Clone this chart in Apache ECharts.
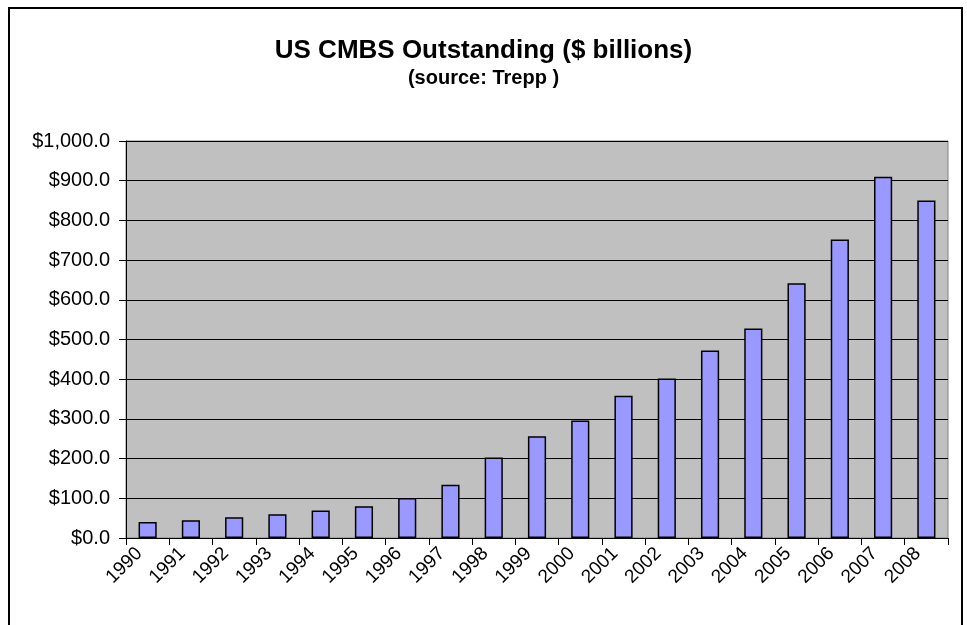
<!DOCTYPE html>
<html>
<head>
<meta charset="utf-8">
<title>US CMBS Outstanding</title>
<script src="https://cdn.jsdelivr.net/npm/echarts@6/dist/echarts.min.js"></script>
<style>
  html, body { margin: 0; padding: 0; background: #fff; }
  #chart { width: 967px; height: 625px; }
</style>
</head>
<body>
<div id="chart"></div>
<script>
// years on the x axis
const years = ['1990', '1991', '1992', '1993', '1994', '1995', '1996', '1997', '1998', '1999',
  '2000', '2001', '2002', '2003', '2004', '2005', '2006', '2007', '2008']
// outstanding, $ billions
const outstanding = [40, 45, 52, 60, 69, 80, 101, 134, 203, 256,
  296, 358, 402, 472, 528, 642, 752, 910, 850]

const chart = echarts.init(document.getElementById('chart'))

chart.setOption({
  backgroundColor: '#fff',
  animation: false,
  textStyle: { fontFamily: '"Liberation Sans", Arial, sans-serif' },
  title: {
    text: 'US CMBS Outstanding ($ billions)',
    subtext: '(source: Trepp )',
    left: 'center',
    top: 33,
    itemGap: 4,
    textStyle: { fontSize: 26, fontWeight: 'bold', color: '#000' },
    subtextStyle: { fontSize: 20, fontWeight: 'bold', color: '#000' },
  },
  // outer chart frame
  graphic: [
    {
      type: 'rect',
      shape: { x: 9, y: 8, width: 953, height: 640 },
      style: { fill: 'none', stroke: '#000', lineWidth: 2 },
      silent: true,
    },
  ],
  grid: {
    left: 126,
    right: 19,
    top: 141,
    bottom: 87,
    show: true,
    backgroundColor: '#C0C0C0',
    borderColor: '#808080',
    borderWidth: 1,
  },
  xAxis: {
    type: 'category',
    data: years,
    axisLine: { lineStyle: { color: '#000', width: 1 } },
    axisTick: { show: true, length: 7, lineStyle: { color: '#000' } },
    axisLabel: {
      interval: 0,
      rotate: 45,
      margin: 4,
      padding: [0, 12, 0, 0],
      fontSize: 19,
      color: '#000',
    },
  },
  yAxis: {
    type: 'value',
    min: 0,
    max: 1000,
    interval: 100,
    axisLine: { show: true, lineStyle: { color: '#000', width: 1 } },
    axisTick: { show: true, length: 7, lineStyle: { color: '#000' } },
    axisLabel: {
      fontSize: 20,
      color: '#000',
      margin: 16,
      formatter: (v) => '$' + v.toLocaleString('en-US', { minimumFractionDigits: 1, maximumFractionDigits: 1 }),
    },
    splitLine: { show: true, lineStyle: { color: '#000', width: 1 } },
  },
  series: [
    {
      name: 'CMBS Outstanding',
      type: 'bar',
      data: outstanding,
      barCategoryGap: '58%',
      itemStyle: {
        color: '#9999FF',
        borderColor: '#000',
        borderWidth: 1.5,
      },
    },
  ],
})
</script>
</body>
</html>
